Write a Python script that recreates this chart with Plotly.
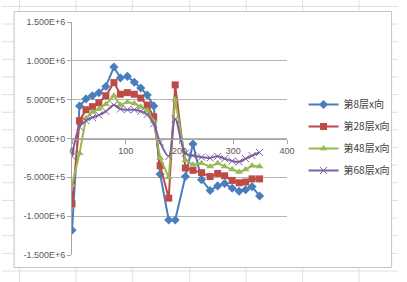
import plotly.graph_objects as go

# ---- data ----
x_pos = [0, 14, 26, 38, 50, 63, 78, 90, 103, 116, 128, 140, 152, 164, 180, 192,
         211, 225, 241, 257, 271, 284, 298, 311, 323, 335, 349]

floor8 = [-1180000, 418000, 510000, 550000, 590000, 670000, 920000, 780000, 800000,
          725000, 650000, 560000, 420000, -460000, -1050000, -1050000, -490000,
          -70000, -530000, -670000, -610000, -580000, -640000, -680000, -660000,
          -620000, -740000]
floor28 = [-840000, 230000, 370000, 410000, 460000, 550000, 720000, 570000, 590000,
           570000, 520000, 430000, 280000, -350000, -768000, 690000, -380000,
           -410000, -440000, -490000, -450000, -480000, -540000, -570000, -560000,
           -520000, -520000]
floor48 = [-600000, -190000, 260000, 340000, 380000, 440000, 550000, 430000, 470000,
           450000, 410000, 360000, 220000, -250000, -500000, 500000, -280000,
           -337000, -320000, -360000, -320000, -360000, -400000, -430000, -400000,
           -350000, -360000]
floor68 = [-230000, 150000, 230000, 270000, 300000, 350000, 430000, 380000, 370000,
           370000, 350000, 310000, 190000, -50000, -230000, 250000, -190000,
           -220000, -240000, -250000, -230000, -260000, -290000, -300000, -260000,
           -220000, -180000]

series_names = ["第8层x向", "第28层x向", "第48层x向", "第68层x向"]
y_tick_vals = [1500000, 1000000, 500000, 0, -500000, -1000000, -1500000]
y_tick_text = ["1.500E+6", "1.000E+6", "5.000E+5", "0.000E+0", "-5.000E+5",
               "-1.000E+6", "-1.500E+6"]
x_tick_vals = [0, 100, 200, 300, 400]

# ---- figure ----
W, H = 407, 282
L, T, R, B = 72, 22, 114, 27
PW, PH = W - L - R, H - T - B


def fx(px):
    return (px - L) / PW


def fy(py):
    return (H - B - py) / PH


colors = ["#4A7EBB", "#BE4B48", "#98B954", "#7D60A0"]
symbols = ["diamond", "square", "triangle-up", "x-thin-open"]
msizes = [7, 7, 7, 7]
data = [floor8, floor28, floor48, floor68]

fig = go.Figure()
for i, (name, ys) in enumerate(zip(series_names, data)):
    mk = dict(symbol=symbols[i], size=msizes[i], color=colors[i])
    if symbols[i].endswith("open"):
        mk["line"] = dict(color=colors[i], width=1)
    fig.add_trace(go.Scatter(
        x=x_pos, y=ys, name=name, mode="lines+markers",
        line=dict(color=colors[i], width=2,
                  shape="spline" if i == 3 else "linear"),
        marker=mk, legendgroup=str(i)))

shapes = []
# spreadsheet grid behind the chart
sheet_col = "#dbe0e8"
for cx in [18, 76, 134, 193, 251, 309, 367]:
    shapes.append(dict(type="line", xref="paper", yref="paper",
                       x0=fx(cx), x1=fx(cx), y0=fy(0), y1=fy(H),
                       line=dict(color=sheet_col, width=1), layer="below"))
k = 0
while True:
    ry = 6.4 + 17.64 * k
    if ry > H:
        break
    shapes.append(dict(type="line", xref="paper", yref="paper",
                       x0=fx(0), x1=fx(W), y0=fy(ry), y1=fy(ry),
                       line=dict(color=sheet_col, width=1), layer="below"))
    k += 1
# chart area
shapes.append(dict(type="rect", xref="paper", yref="paper",
                   x0=fx(12.5), x1=fx(400.5), y0=fy(267.5), y1=fy(11.5),
                   fillcolor="white", line=dict(color="#c4c4c4", width=1),
                   layer="below"))

fig.update_layout(
    width=W, height=H,
    margin=dict(l=L, r=R, t=T, b=B, pad=0),
    paper_bgcolor="white", plot_bgcolor="rgba(0,0,0,0)",
    font=dict(family="Liberation Sans, Arial, sans-serif", size=9, color="#595959"),
    shapes=shapes,
    showlegend=True,
    legend=dict(x=fx(310), y=fy(90), xanchor="left", yanchor="top",
                bgcolor="rgba(0,0,0,0)", borderwidth=0,
                font=dict(family="Noto Sans CJK SC", size=10, color="#404040"),
                itemwidth=30, tracegroupgap=3),
    xaxis=dict(range=[0, 400], tickvals=x_tick_vals, showgrid=False,
               zeroline=False, showline=True, linecolor="#a6a6a6", linewidth=1,
               ticks="outside", ticklen=4, tickcolor="#a6a6a6",
               anchor="free", position=0.5,
               tickfont=dict(size=9, color="#595959")),
    yaxis=dict(range=[-1500000, 1500000], tickvals=y_tick_vals,
               ticktext=y_tick_text, showgrid=True, gridcolor="#b5b5b5",
               gridwidth=1, zeroline=False, showline=True,
               linecolor="#a6a6a6", linewidth=1, ticks="outside", ticklen=4,
               tickcolor="#a6a6a6", tickfont=dict(size=9, color="#595959")),
)

fig.write_html("out.html")
